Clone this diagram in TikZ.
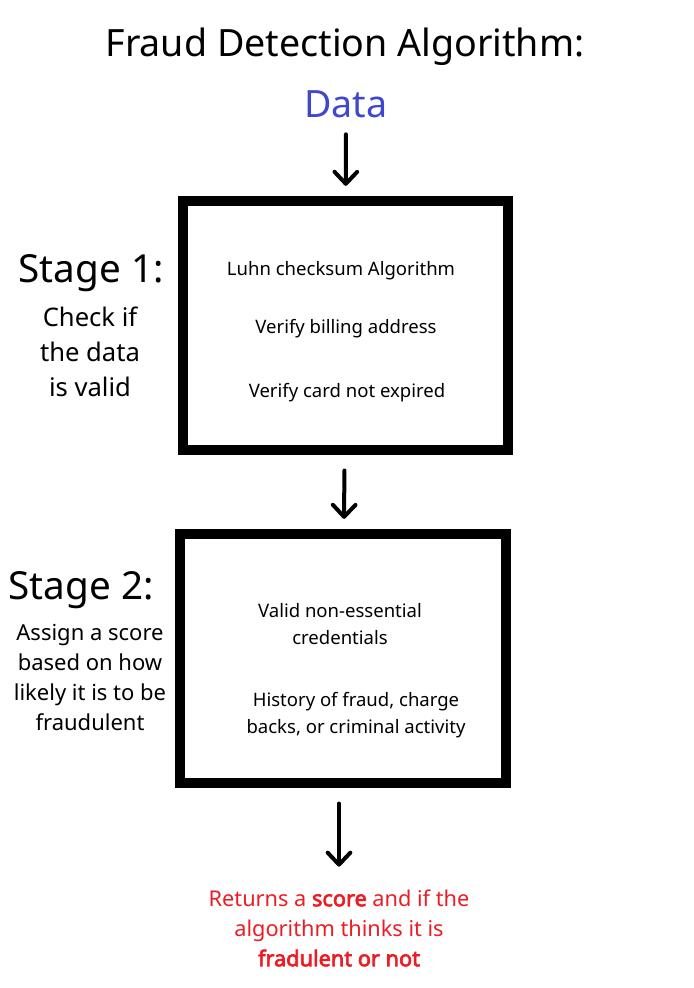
\documentclass[tikz,border=0pt]{standalone}
\usepackage{fontspec}
\setmainfont{Noto Sans}[AutoFakeBold=3]
\usetikzlibrary{arrows.meta,positioning}
\definecolor{datablue}{RGB}{63,72,204}
\definecolor{outred}{RGB}{237,28,36}

\begin{document}
\begin{tikzpicture}[x=0.75pt,y=-0.75pt,
  stagebox/.style={draw, line width=7.5pt, minimum width=244pt, minimum height=187pt},
  flow/.style={-{Straight Barb[length=9pt,width=17pt,round]}, line width=3pt, line cap=round},
  stagetitle/.style={font=\fontsize{29}{34}\selectfont},
  stagenote/.style={align=center, inner sep=0pt},
  item/.style={align=center, inner sep=0pt, font=\fontsize{13.9}{20.25}\selectfont}]
  \useasboundingbox (0,0) rectangle (693,988);

  % heading and input
  \node (title) at (345,47) {\fontsize{28.2}{32}\selectfont Fraud Detection Algorithm:};
  \node[text=datablue] (data) at (346,104) {\fontsize{28.2}{32}\selectfont Data};

  % stage 1
  \node[stagebox] (B1) at (345.5,325.5) {};
  \node[stagetitle] (S1) at (91,273) {Stage 1:};
  \node[stagenote, font=\fontsize{19.2}{26.25}\selectfont] (S1n) at (90,352)
    {Check if\\the data\\is valid};
  \node[item] (luhn) at (341,271) {Luhn checksum Algorithm};
  \node[item] (bill) at (346,329) {Verify billing address};
  \node[item] (expd) at (347,393) {Verify card not expired};

  % stage 2
  \node[stagebox] (B2) at (343,658.5) {};
  \node[stagetitle] (S2) at (81,590) {Stage 2:};
  \node[stagenote, font=\fontsize{16.5}{22.5}\selectfont] (S2n) at (90,677)
    {Assign a score\\based on how\\likely it is to be\\fraudulent};
  \node[item] (cred) at (340,624) {Valid non-essential\\credentials};
  \node[item] (hist) at (356,715) {History of fraud, charge\\backs, or criminal activity};

  % result
  \node[align=center, inner sep=0pt, text=outred, font=\fontsize{16.3}{22.5}\selectfont]
    (R) at (339,928) {Returns a \textbf{score} and if the\\algorithm thinks it is\\\textbf{fradulent or not}};

  \draw[flow, shorten <=9pt, shorten >=7.5pt] (data) -- (B1);
  \draw[flow, shorten <=11.5pt, shorten >=7.5pt] (B1) -- (B2);
  \draw[flow, shorten <=11.5pt, shorten >=17pt] (B2.south -| R.north) -- (R.north);
\end{tikzpicture}
\end{document}
